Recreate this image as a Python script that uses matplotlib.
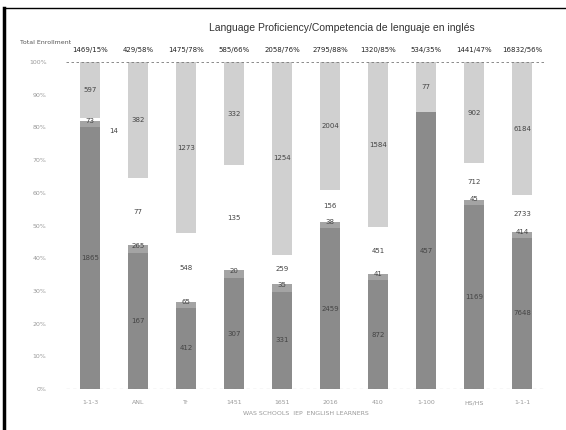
import matplotlib
matplotlib.use("Agg")
import matplotlib.pyplot as plt
import numpy as np
from matplotlib.lines import Line2D

categories = ["1-1-3", "ANL", "Tr", "1451", "1651", "2016", "410", "1-100", "HS/HS", "1-1-1"]
top_labels = ["1469/15%", "429/58%", "1475/78%", "585/66%", "2058/76%",
              "2795/88%", "1320/85%", "534/35%", "1441/47%", "16832/56%"]

# percentage shares of each segment (bottom -> top)
dark_pct  = [80.0, 41.6, 24.8, 33.9, 29.7, 49.2, 33.3, 84.7, 56.3, 46.2]
thin_pct  = [2.0, 2.4, 1.8, 2.4, 2.4, 1.8, 1.8, 0.0, 1.5, 1.8]
white_pct = [1.0, 20.5, 21.1, 32.1, 8.9, 9.8, 14.4, 0.0, 11.3, 11.3]
light_pct = [17.0, 35.5, 52.3, 31.6, 59.0, 39.2, 50.5, 15.3, 30.9, 40.7]

dark_lbl  = ["1865", "167", "412", "307", "331", "2459", "872", "457", "1169", "7648"]
thin_lbl  = ["73", "265", "65", "20", "35", "38", "41", "", "45", "414"]
white_lbl = ["14", "77", "548", "135", "259", "156", "451", "", "712", "2733"]
light_lbl = ["597", "382", "1273", "332", "1254", "2004", "1584", "77", "902", "6184"]

fig = plt.figure(figsize=(5.66, 4.30), dpi=100)
ax = fig.add_axes([66/566, 41/430, 480/566, 327/430])

x = np.arange(len(categories))
w = 0.42
dark = np.array(dark_pct) / 100
thin = np.array(thin_pct) / 100
white = np.array(white_pct) / 100
light = np.array(light_pct) / 100

ax.bar(x, dark, w, color="#8b8b8b", edgecolor="none")
ax.bar(x, thin, w, bottom=dark, color="#a4a4a4", edgecolor="none")
ax.bar(x, white, w, bottom=dark + thin, color="white", edgecolor="none")
ax.bar(x, light, w, bottom=dark + thin + white, color="#d0d0d0", edgecolor="none")

lab_kw = dict(ha="center", va="center", fontsize=5, color="#444444")
for i in range(len(categories)):
    if dark_lbl[i]:
        ax.text(x[i], dark[i] / 2, dark_lbl[i], **lab_kw)
    if thin_lbl[i]:
        ax.text(x[i], dark[i] + thin[i] / 2 + 0.01, thin_lbl[i], **lab_kw)
    if white_lbl[i]:
        if white[i] < 0.03:
            ax.text(x[i] + 0.5, dark[i] + thin[i] - 0.03, white_lbl[i], **lab_kw)
        else:
            ax.text(x[i], dark[i] + thin[i] + white[i] / 2, white_lbl[i], **lab_kw)
    if light_lbl[i]:
        ax.text(x[i], 1 - light[i] / 2, light_lbl[i], **lab_kw)
    ax.text(x[i], 1.037, top_labels[i], ha="center", va="center",
            fontsize=5, color="#222222")

ax.set_xlim(-0.5, len(categories) - 0.5)
ax.set_ylim(0, 1)
ax.set_yticks(np.linspace(0, 1, 11))
ax.set_yticklabels([f"{int(v)}%" for v in np.linspace(0, 100, 11)], fontsize=4.5, color="#999999")
ax.set_xticks(x)
ax.set_xticklabels(categories, fontsize=4.5, color="#999999")
ax.tick_params(length=0, pad=14)
ax.tick_params(axis="x", pad=8)
for s in ax.spines.values():
    s.set_visible(False)
ax.axhline(0, color="#777777", lw=0.8, ls=(0, (3, 3)))
ax.axhline(1, color="#777777", lw=0.6, ls=(0, (3, 3)))
ax.set_xlabel("WAS SCHOOLS  IEP  ENGLISH LEARNERS", fontsize=4.5, color="#999999", labelpad=4)

fig.text(342/566, 1 - 28/430, "Language Proficiency/Competencia de lenguaje en inglés",
         ha="center", va="center", fontsize=7.5, color="#333333", family="Liberation Sans")
fig.text(20/566, 1 - 42/430, "Total Enrollment", ha="left", va="center",
         fontsize=4.5, color="#555555")

# scanned page frame
fig.add_artist(Line2D([4/566, 4/566], [0, 1 - 8/430], color="black", lw=2.5, transform=fig.transFigure))
fig.add_artist(Line2D([4/566, 1], [1 - 8/430, 1 - 8/430], color="black", lw=1.0, transform=fig.transFigure))

fig.savefig("out.png", dpi=100)
